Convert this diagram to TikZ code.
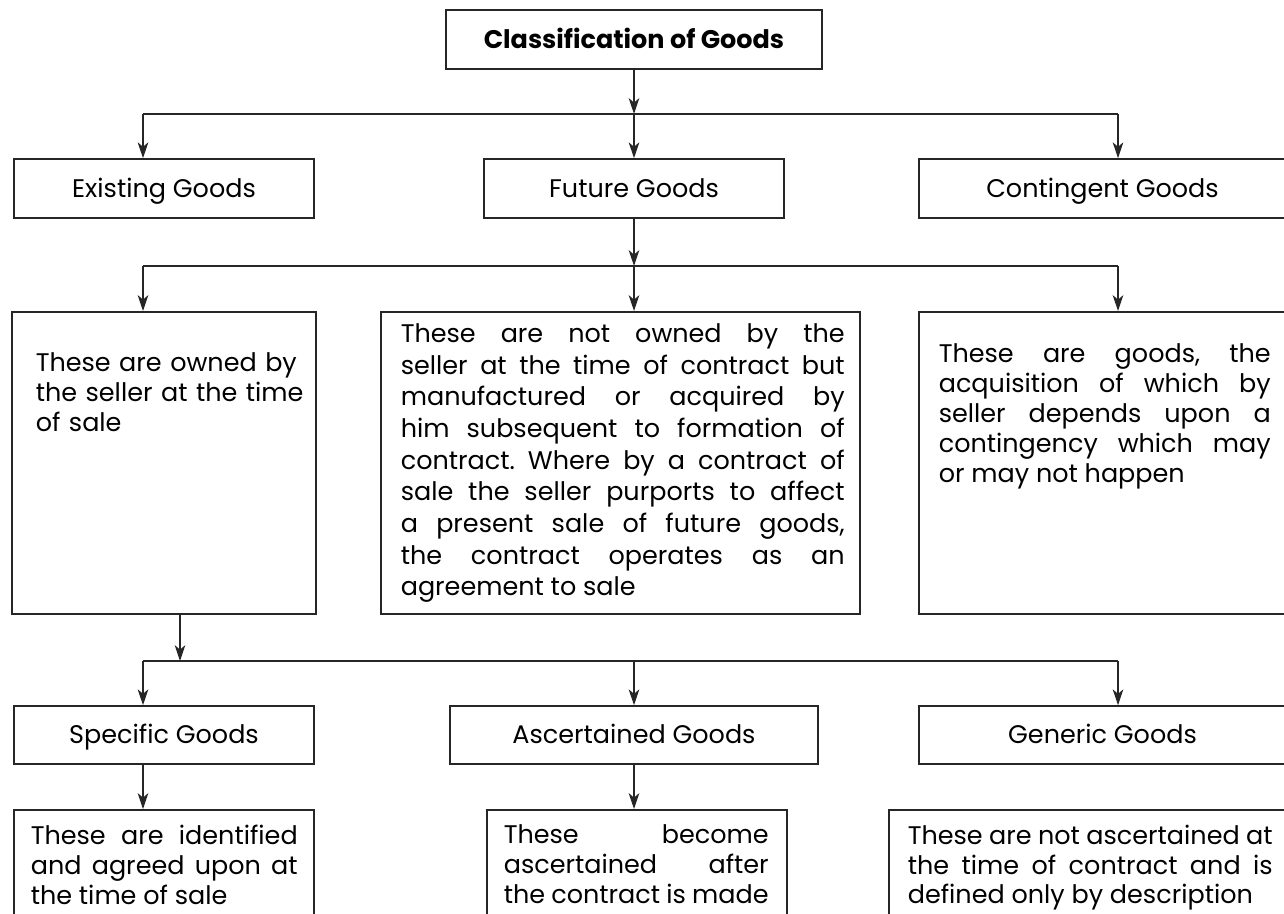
\documentclass[tikz,border=0pt]{standalone}
\usepackage{fontspec}
\setmainfont{Poppins}
\frenchspacing
\usetikzlibrary{positioning, arrows.meta}
\newcommand{\boxfont}{\fontsize{14.5}{17}\selectfont}
\tikzset{
	>={Stealth[length=9pt, width=6pt, inset=2.5pt]},
	every node/.style={font=\boxfont},
	box/.style={draw, rectangle, inner sep=0pt, minimum height=1.18cm, text height=1em, text depth=0pt},
	descbox/.style={draw, rectangle, inner sep=0pt, anchor=north},
	desc/.style={inner sep=0pt, anchor=north west, align=justify}}

\begin{document}
\begin{tikzpicture}[x=0.02cm, y=-0.02cm, line width=0.9pt, draw=black!85]
	\useasboundingbox (0,0) rectangle (1284,913);

	\node[box, minimum width=7.52cm, font=\boxfont\bfseries] (title) at (634,39.5) {Classification of Goods};
	\node[box, minimum width=6cm] (existing) at (164,188.5) {Existing Goods};
	\node[box, minimum width=6cm] (future) at (634,188.5) {Future Goods};
	\node[box, minimum width=7.34cm] (contingent) at (1102.5,188.5) {Contingent Goods};

	\node[descbox, minimum width=6.08cm, minimum height=6.04cm] (dexisting) at (164,311) {};
	\node[descbox, minimum width=9.58cm, minimum height=6.04cm] (dfuture) at (620.5,311) {};
	\node[descbox, minimum width=7.34cm, minimum height=6.04cm] (dcontingent) at (1102.5,311) {};
	\node[desc, text width=5.6cm, align=left] (texisting) at (35,352)
		{These are owned by\\ the seller at the time\\ of sale};
	\node[desc, text width=8.88cm, font=\fontsize{14.5}{18}\selectfont] (tfuture) at (400,323)
		{These are not owned by the\linebreak seller at the time of contract but\linebreak manufactured or acquired by\linebreak him subsequent to formation of\linebreak contract. Where by a contract of\linebreak sale the seller purports to affect\linebreak a present sale of future goods,\linebreak the contract operates as an\linebreak agreement to sale};
	\node[desc, text width=6.64cm] (tcontingent) at (938,343)
		{These are goods, the\linebreak acquisition of which by\linebreak seller depends upon a\linebreak contingency which may\linebreak or may not happen};

	\node[box, minimum width=6cm, minimum height=1.16cm] (specific) at (164,735) {Specific Goods};
	\node[box, minimum width=7.36cm, minimum height=1.16cm] (ascertained) at (634,735) {Ascertained Goods};
	\node[box, minimum width=7.34cm, minimum height=1.16cm] (generic) at (1102.5,735) {Generic Goods};

	\node[descbox, minimum width=6cm, minimum height=2.62cm] (dspecific) at (164,809) {};
	\node[descbox, minimum width=6cm, minimum height=2.62cm] (dascertained) at (637,809) {};
	\node[descbox, minimum width=8.02cm, minimum height=2.62cm] (dgeneric) at (1089.5,809) {};
	\node[desc, text width=5.34cm] (tspecific) at (30,824)
		{These are identified\linebreak and agreed upon at\linebreak the time of sale};
	\node[desc, text width=5.3cm] (tascertained) at (503,824)
		{These become\linebreak ascertained after\linebreak the contract is made};
	\node[desc, text width=7.3cm] (tgeneric) at (907,824)
		{These are not ascertained at\linebreak the time of contract and is\linebreak defined only by description};

	\coordinate (split1w) at (143,114);
	\coordinate (split1) at (634,114);
	\coordinate (split1e) at (1118,114);
	\coordinate (split2w) at (143,266);
	\coordinate (split2) at (634,266);
	\coordinate (split2e) at (1118,266);
	\coordinate (split3w) at (143,661);
	\coordinate (split3) at (180,661);
	\coordinate (split3m) at (634,661);
	\coordinate (split3e) at (1118,661);

	\draw[->] (title) -- (split1);
	\draw (split1w) -- (split1e);
	\draw[->] (split1w) -- (split1w |- existing.north);
	\draw[->] (split1) -- (future);
	\draw[->] (split1e) -- (split1e |- contingent.north);

	\draw[->] (future) -- (split2);
	\draw (split2w) -- (split2e);
	\draw[->] (split2w) -- (split2w |- dexisting.north);
	\draw[->] (split2) -- (split2 |- dfuture.north);
	\draw[->] (split2e) -- (split2e |- dcontingent.north);

	\draw[->] (split3 |- dexisting.south) -- (split3);
	\draw (split3w) -- (split3e);
	\draw[->] (split3w) -- (split3w |- specific.north);
	\draw[->] (split3m) -- (ascertained);
	\draw[->] (split3e) -- (split3e |- generic.north);
	\draw[->] (specific.south -| split3w) -- (dspecific.north -| split3w);
	\draw[->] (ascertained.south) -- (ascertained.south |- dascertained.north);
\end{tikzpicture}
\end{document}
